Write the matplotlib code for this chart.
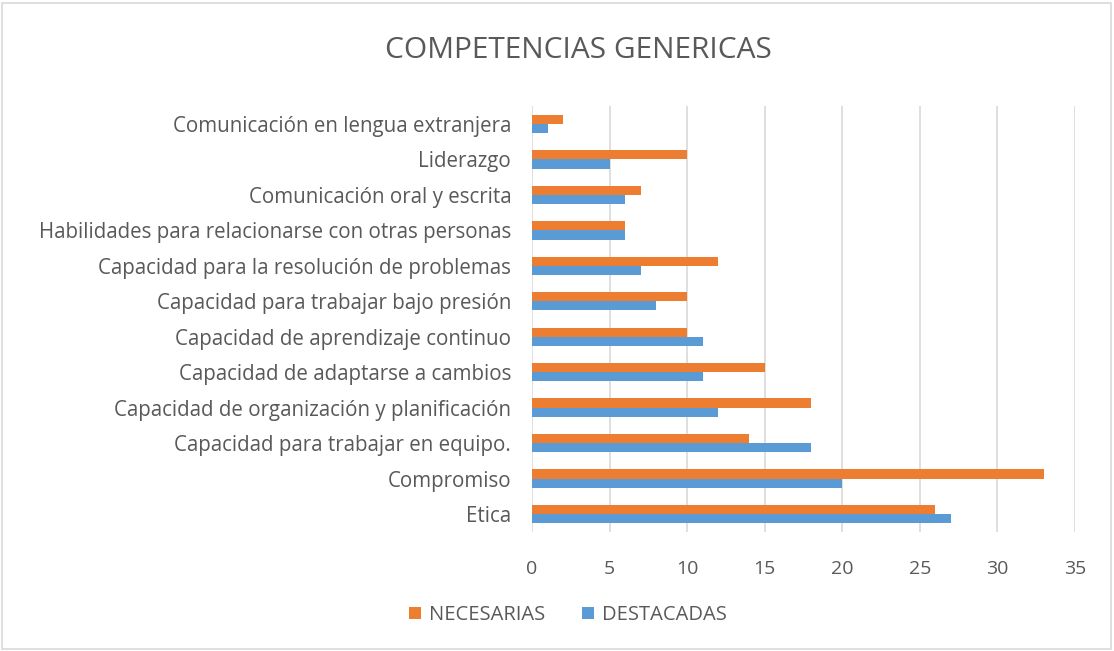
import matplotlib.pyplot as plt
import numpy as np
from matplotlib.patches import Rectangle

# --- Data ---
categorias = [
    "Etica",
    "Compromiso",
    "Capacidad para trabajar en equipo.",
    "Capacidad de organización y planificación",
    "Capacidad de adaptarse a cambios",
    "Capacidad de aprendizaje continuo",
    "Capacidad para trabajar bajo presión",
    "Capacidad para la resolución de problemas",
    "Habilidades para relacionarse con otras personas",
    "Comunicación oral y escrita",
    "Liderazgo",
    "Comunicación en lengua extranjera",
]
necesarias = [26, 33, 14, 18, 15, 10, 10, 12, 6, 7, 10, 2]
destacadas = [27, 20, 18, 12, 11, 11, 8, 7, 6, 6, 5, 1]
x_ticks = [0, 5, 10, 15, 20, 25, 30, 35]

ORANGE = "#ed7d31"
BLUE = "#5b9bd5"
TEXT = "#595959"

plt.rcParams['font.family'] = ['Open Sans', 'DejaVu Sans']

fig = plt.figure(figsize=(11.14, 6.51), dpi=100)
ax = fig.add_axes([0.4776, 0.183, 0.4874, 0.654])

y = np.arange(len(categorias))
h = 0.26
ax.barh(y + h / 2, necesarias, height=h, color=ORANGE, label="NECESARIAS", zorder=3)
ax.barh(y - h / 2, destacadas, height=h, color=BLUE, label="DESTACADAS", zorder=3)

ax.set_xlim(0, 35)
ax.set_ylim(-0.5, len(categorias) - 0.5)
ax.set_xticks(x_ticks)
ax.set_yticks(y)
ax.set_yticklabels(categorias)
ax.tick_params(axis='both', length=0, colors=TEXT)
ax.tick_params(axis='y', labelsize=14.8, pad=15)
ax.tick_params(axis='x', labelsize=14, pad=20)
ax.grid(axis='x', color="#d9d9d9", linewidth=1.2, zorder=0)
for s in ax.spines.values():
    s.set_visible(False)

fig.text(0.519, 0.922, "COMPETENCIAS GENERICAS", ha='center', va='center',
         fontsize=21.5, color=TEXT)

fig.legend(loc='center', bbox_to_anchor=(0.51, 0.055), ncol=2, frameon=False,
           fontsize=14.5, labelcolor=TEXT, handlelength=0.6, handleheight=0.6,
           columnspacing=1.8, handletextpad=0.4)

# border around the chart
fig.patches.append(Rectangle((0.002, 0.003), 0.995, 0.993, transform=fig.transFigure,
                             fill=False, edgecolor="#d9d9d9", linewidth=1.2))

fig.savefig("out.png", dpi=100)
